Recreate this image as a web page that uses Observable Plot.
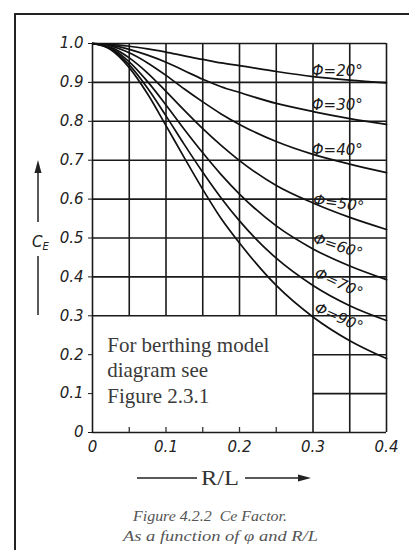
<!DOCTYPE html>
<html><head><meta charset="utf-8">
<script src="https://cdn.jsdelivr.net/npm/d3@7"></script>
<script src="https://cdn.jsdelivr.net/npm/@observablehq/plot@0.6"></script>
<style>
body{margin:0;background:#fff;}
#chart{position:relative;width:409px;height:550px;overflow:hidden;}
</style></head><body><div id="chart"></div>
<script>
// R/L values where the curves were read
const ratio = [0, 0.025, 0.05, 0.075, 0.1, 0.125, 0.15, 0.175, 0.2, 0.25, 0.3, 0.35, 0.4];
// C_E readings, one array per berthing angle
const ce20 = [1, 0.998, 0.993, 0.986, 0.978, 0.968, 0.959, 0.950, 0.943, 0.928, 0.915, 0.906, 0.899];
const ce30 = [1, 0.996, 0.985, 0.970, 0.952, 0.930, 0.908, 0.889, 0.874, 0.846, 0.825, 0.807, 0.792];
const ce40 = [1, 0.994, 0.976, 0.950, 0.918, 0.883, 0.850, 0.819, 0.792, 0.748, 0.715, 0.690, 0.668];
const ce50 = [1, 0.990, 0.963, 0.924, 0.877, 0.828, 0.781, 0.738, 0.699, 0.635, 0.590, 0.553, 0.522];
const ce60 = [1, 0.988, 0.953, 0.902, 0.842, 0.779, 0.719, 0.663, 0.613, 0.531, 0.472, 0.428, 0.393];
const ce70 = [1, 0.986, 0.945, 0.885, 0.814, 0.740, 0.669, 0.603, 0.544, 0.448, 0.378, 0.326, 0.288];
const ce90 = [1, 0.984, 0.938, 0.870, 0.789, 0.706, 0.625, 0.550, 0.487, 0.378, 0.297, 0.236, 0.190];
const angles = [20, 30, 40, 50, 60, 70, 90];
const seriesValues = [ce20, ce30, ce40, ce50, ce60, ce70, ce90];

// curve labels
const labelText = ["Φ=20°", "Φ=30°", "Φ=40°", "Φ=50°", "Φ=60°", "Φ=70°", "Φ=90°"];
const labelX = [0.333, 0.333, 0.333, 0.335, 0.334, 0.335, 0.335];
const labelY = [0.929, 0.842, 0.726, 0.589, 0.479, 0.384, 0.296];
const labelRotate = [0, 0, 0, 8, 18, 25, 24];

// ticks
const xTicks = [0, 0.05, 0.1, 0.15, 0.2, 0.25, 0.3, 0.35, 0.4];
const xTickLabels = [0, 0.1, 0.2, 0.3, 0.4];
const yTicks = [0, 0.1, 0.2, 0.3, 0.4, 0.5, 0.6, 0.7, 0.8, 0.9, 1.0];

// note box (lower-left region without grid)
const boxRight = 0.3, boxTop = 0.3;
const noteText = "For berthing model\ndiagram see\nFigure 2.3.1";
const noteX = [0.02], noteY = [0.255];

const captionLines = ["Figure 4.2.2  Ce Factor.", "As a function of φ and R/L"];

const rows = angles.flatMap((a, i) => ratio.map((r, j) => ({phi: a, r, ce: seriesValues[i][j]})));
const labels = angles.map((a, i) => ({text: labelText[i], x: labelX[i], y: labelY[i], rot: labelRotate[i]}));
const vGrid = xTicks.map(x => ({x, y1: (x > 0 && x < boxRight) ? boxTop : 0, y2: 1}));
const hGrid = yTicks.map(y => ({y, x1: (y > 0 && y < boxTop) ? boxRight : 0, x2: 0.4}));
const minorTicks = xTicks.filter(x => x > 0 && x < boxRight);
const fmt = d => d === 0 ? "0" : d.toFixed(1);

const svg = Plot.plot({
  width: 409, height: 550,
  marginLeft: 92, marginRight: 23, marginTop: 43, marginBottom: 118,
  x: {domain: [0, 0.4]},
  y: {domain: [0, 1]},
  style: {background: "transparent", fontFamily: "DejaVu Sans", color: "#222"},
  marks: [
    Plot.ruleX(vGrid, {x: "x", y1: "y1", y2: "y2", stroke: "#1a1a1a", strokeWidth: 1.6}),
    Plot.ruleY(hGrid, {y: "y", x1: "x1", x2: "x2", stroke: "#1a1a1a", strokeWidth: 1.6}),
    Plot.tickX(minorTicks, {x: d => d, insetTop: 384, stroke: "#333", strokeWidth: 1.3}),
    Plot.line(rows, {x: "r", y: "ce", z: "phi", curve: "monotone-x", stroke: "#111", strokeWidth: 1.7}),
    Plot.text(labels, {x: "x", y: "y", text: "text", rotate: "rot", fontStyle: "italic", fontSize: 15, fill: "#1a1a1a", fontFamily: "DejaVu Sans"}),
    Plot.text(noteX, {x: d => d, y: (d, i) => noteY[i], text: () => noteText, textAnchor: "start", lineAnchor: "top", lineHeight: 1.22, fontSize: 21, fontFamily: "Liberation Serif", fill: "#3a3a3a"}),
    Plot.axisX({ticks: xTickLabels, tickSize: 0, tickPadding: 9, tickFormat: fmt, fontStyle: "italic", fontSize: 15, label: null, fill: "#222"}),
    Plot.axisY({ticks: yTicks, tickSize: 4, tickPadding: 5, tickFormat: fmt, fontStyle: "italic", fontSize: 15, label: null, fill: "#222", stroke: "#1a1a1a"})
  ]
});
document.getElementById("chart").appendChild(svg);

// decorations: outer frame, axis titles with arrows, caption
const s = d3.select(svg);
const deco = s.append("g").attr("stroke", "#222").attr("fill", "none");
deco.append("line").attr("x1", 15).attr("y1", 14).attr("x2", 15).attr("y2", 550).attr("stroke-width", 2);
deco.append("line").attr("x1", 14).attr("y1", 14).attr("x2", 409).attr("y2", 14).attr("stroke-width", 2);
// y-axis title arrow
deco.append("line").attr("x1", 38).attr("y1", 222).attr("x2", 38).attr("y2", 170).attr("stroke-width", 1.5);
s.append("path").attr("d", "M38,160 L34.5,173 L41.5,173 Z").attr("fill", "#222");
deco.append("line").attr("x1", 38).attr("y1", 256).attr("x2", 38).attr("y2", 315).attr("stroke-width", 1.5);
const ce = s.append("text").attr("x", 32).attr("y", 247).attr("text-anchor", "start").attr("font-family", "DejaVu Sans").attr("font-style", "italic").attr("font-size", 15).attr("fill", "#222");
ce.append("tspan").text("C");
ce.append("tspan").attr("font-size", 10).attr("dy", 3).text("E");
// x-axis title arrow
deco.append("line").attr("x1", 137).attr("y1", 478).attr("x2", 197).attr("y2", 478).attr("stroke-width", 1.3);
deco.append("line").attr("x1", 245).attr("y1", 478).attr("x2", 300).attr("y2", 478).attr("stroke-width", 1.3);
s.append("path").attr("d", "M311,478 L298,474.5 L298,481.5 Z").attr("fill", "#222");
s.append("text").attr("x", 201).attr("y", 485).attr("text-anchor", "start").attr("font-family", "Liberation Serif").attr("font-size", 20)
  .attr("textLength", 38).attr("lengthAdjust", "spacingAndGlyphs").attr("fill", "#333").text("R/L");
// caption
const capX = [133, 123], capW = [154, 195];
captionLines.forEach((t, i) => {
  s.append("text").attr("x", capX[i]).attr("y", 521 + i * 20).attr("text-anchor", "start")
    .attr("textLength", capW[i]).attr("lengthAdjust", "spacingAndGlyphs")
    .attr("font-family", "Liberation Serif").attr("font-style", "italic").attr("font-size", 15).attr("fill", "#555").text(t);
});
</script>
</body></html>
